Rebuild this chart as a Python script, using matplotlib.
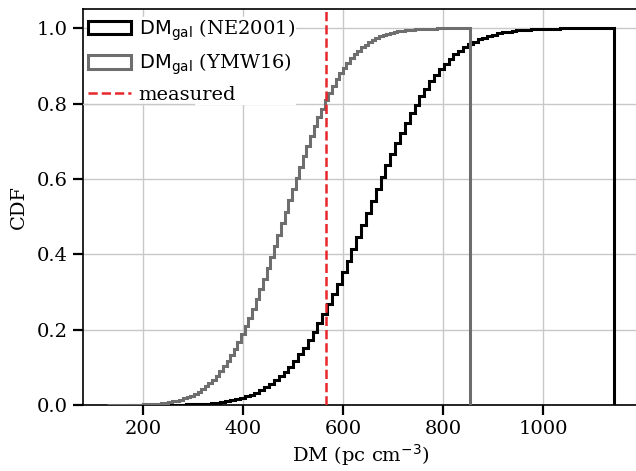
import numpy as np
import matplotlib
matplotlib.use("Agg")
import matplotlib.pyplot as plt

plt.rcParams['font.family'] = ['DejaVu Serif']
plt.rcParams['mathtext.fontset'] = 'dejavusans'

# Bin ranges (pc cm^-3), 100 bins each
ne2001_range = (170.0, 1140.0)
ymw16_range = (127.0, 853.0)
measured_dm = 565.0

# CDF value at the right edge of each bin
cdf_ne2001 = [
    0.00004, 0.00006, 0.00008, 0.0001, 0.00015, 0.0002, 0.0003, 0.0004, 0.0005, 0.0007,
    0.0009, 0.0012, 0.0015, 0.0020, 0.0025, 0.0032, 0.0041, 0.0052, 0.0066, 0.0082,
    0.0102, 0.0126, 0.0155, 0.0189, 0.0230, 0.0277, 0.0333, 0.0397, 0.0472, 0.0557,
    0.0654, 0.0764, 0.0885, 0.1022, 0.1174, 0.1342, 0.1525, 0.1723, 0.1935, 0.2165,
    0.2410, 0.2670, 0.2942, 0.3224, 0.3520, 0.3825, 0.4137, 0.4455, 0.4777, 0.5096,
    0.5418, 0.5738, 0.6053, 0.6361, 0.6657, 0.6946, 0.7224, 0.7489, 0.7740, 0.7976,
    0.8194, 0.8399, 0.8588, 0.8762, 0.8920, 0.9061, 0.9189, 0.9304, 0.9406, 0.9496,
    0.9575, 0.9643, 0.9702, 0.9752, 0.9796, 0.9832, 0.9863, 0.9889, 0.9911, 0.9928,
    0.9943, 0.9955, 0.9964, 0.9972, 0.9978, 0.9983, 0.9987, 0.9990, 0.9993, 0.9994,
    0.9996, 0.9997, 0.9998, 0.9998, 0.9999, 0.9999, 0.9999, 1.0, 1.0, 1.0,
]
cdf_ymw16 = [
    0.0001, 0.00014, 0.0002, 0.00025, 0.0003, 0.0004, 0.0006, 0.0007, 0.0010, 0.0012,
    0.0016, 0.0020, 0.0026, 0.0033, 0.0041, 0.0051, 0.0064, 0.0079, 0.0097, 0.0119,
    0.0145, 0.0175, 0.0211, 0.0253, 0.0301, 0.0358, 0.0422, 0.0496, 0.0579, 0.0672,
    0.0778, 0.0895, 0.1026, 0.1168, 0.1326, 0.1496, 0.1680, 0.1881, 0.2093, 0.2321,
    0.2559, 0.2810, 0.3075, 0.3347, 0.3632, 0.3920, 0.4219, 0.4518, 0.4821, 0.5128,
    0.5430, 0.5734, 0.6030, 0.6319, 0.6606, 0.6879, 0.7146, 0.7399, 0.7642, 0.7870,
    0.8084, 0.8287, 0.8473, 0.8648, 0.8806, 0.8951, 0.9084, 0.9203, 0.9311, 0.9406,
    0.9492, 0.9566, 0.9632, 0.9690, 0.9739, 0.9783, 0.9819, 0.9850, 0.9877, 0.9899,
    0.9918, 0.9934, 0.9947, 0.9957, 0.9966, 0.9973, 0.9979, 0.9983, 0.9987, 0.9990,
    0.9992, 0.9994, 0.9995, 0.9997, 0.9997, 0.9998, 0.9999, 0.9999, 0.9999, 1.0,
]

edges_ne = np.linspace(ne2001_range[0], ne2001_range[1], len(cdf_ne2001) + 1)
edges_ymw = np.linspace(ymw16_range[0], ymw16_range[1], len(cdf_ymw16) + 1)

grid_color = '#c8c8c8'

fig = plt.figure(figsize=(6.36, 4.71), dpi=100)
ax = fig.add_axes([0.130, 0.140, 0.874, 0.840])

ax.hist(edges_ne[:-1], bins=edges_ne, weights=cdf_ne2001, histtype='step',
        color='black', lw=2.2, zorder=3, label=r'$\mathrm{DM}_{\mathrm{gal}}$ (NE2001)')
ax.hist(edges_ymw[:-1], bins=edges_ymw, weights=cdf_ymw16, histtype='step',
        color='#6e6e6e', lw=2.2, zorder=3, label=r'$\mathrm{DM}_{\mathrm{gal}}$ (YMW16)')
ax.axvline(measured_dm, color='#e8262b', ls='--', lw=1.8, zorder=4, label='measured')

ax.set_xlim(79, 1190)
ax.set_ylim(0, 1.05)
ax.set_xticks([200, 400, 600, 800, 1000])
ax.set_yticks([0.0, 0.2, 0.4, 0.6, 0.8, 1.0])
ax.grid(True, color=grid_color, lw=1.0)
ax.set_axisbelow(True)
ax.tick_params(axis='both', which='major', length=7, width=1.6, labelsize=14, pad=4)
for s in ax.spines.values():
    s.set_linewidth(1.2)

ax.set_xlabel(r'DM (pc cm$^{-3}$)', fontsize=14, labelpad=3)
ax.set_ylabel('CDF', fontsize=14, labelpad=6)

leg = ax.legend(loc='upper left', bbox_to_anchor=(0.008, 0.983), fontsize=14,
                frameon=True, framealpha=1.0,
                edgecolor='white', facecolor='white', fancybox=False,
                borderaxespad=0.05, borderpad=0.0, handlelength=2.2,
                handletextpad=0.4, labelspacing=0.45)

# keep the 0.8 grid line visible just below the legend, as in the reference
ax.axhline(0.8, xmin=0.0, xmax=0.2, color=grid_color, lw=1.0, zorder=6)

fig.savefig('out.png', dpi=100)
